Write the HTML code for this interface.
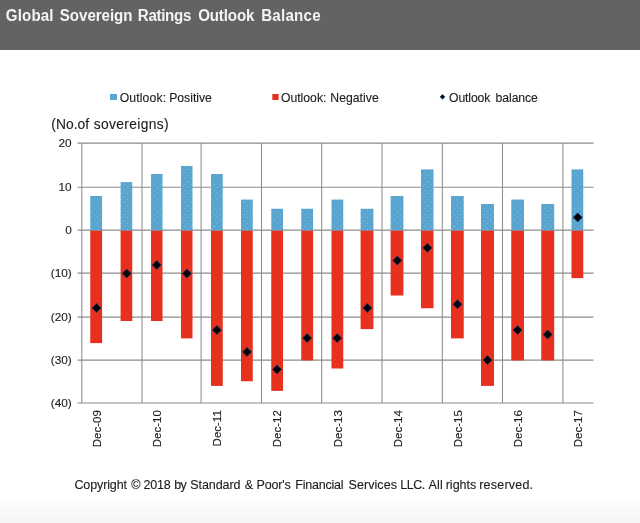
<!DOCTYPE html>
<html><head><meta charset="utf-8"><title>Global Sovereign Ratings Outlook Balance</title>
<style>
html,body{margin:0;padding:0;background:#fff;}
body{width:640px;height:523px;overflow:hidden;font-family:"Liberation Sans",Arial,sans-serif;}
svg{display:block;}
</style></head><body>
<svg width="640" height="523" viewBox="0 0 640 523">
<defs><pattern id="dots" width="6" height="6" patternUnits="userSpaceOnUse"><rect width="6" height="6" fill="#5aa5d0"/><rect x="1" y="1" width="1" height="1" fill="#70c2cc"/><rect x="4" y="4" width="1" height="1" fill="#70c2cc"/></pattern><linearGradient id="fg" x1="0" y1="0" x2="0" y2="1"><stop offset="0" stop-color="#ffffff"/><stop offset="1" stop-color="#f5f5f5"/></linearGradient></defs>
<rect x="0" y="0" width="640" height="523" fill="#ffffff"/>
<rect x="0" y="497" width="640" height="26" fill="url(#fg)"/>
<rect x="0" y="0" width="640" height="50" fill="#646364"/>
<text transform="scale(0.9,1)" y="20.7" font-family="'Liberation Sans', Arial, sans-serif" font-size="16.8" font-weight="bold" fill="#f4f4f4"><tspan x="6.53" letter-spacing="0.15">Global </tspan><tspan x="66.50" letter-spacing="-0.05">Sovereign </tspan><tspan x="153.10" letter-spacing="-0.35">Ratings </tspan><tspan x="220.14" letter-spacing="-0.13">Outlook </tspan><tspan x="290.21" letter-spacing="0.26">Balance</tspan></text>
<g stroke="#8c8c8c" stroke-width="1.05" fill="none"><line x1="77.6" y1="143.1" x2="593.5" y2="143.1"/><line x1="77.6" y1="187.2" x2="593.5" y2="187.2"/><line x1="77.6" y1="230.1" x2="593.5" y2="230.1"/><line x1="77.6" y1="273.1" x2="593.5" y2="273.1"/><line x1="77.6" y1="317.1" x2="593.5" y2="317.1"/><line x1="77.6" y1="360.1" x2="593.5" y2="360.1"/><line x1="77.6" y1="403.0" x2="593.5" y2="403.0"/><line x1="81.8" y1="143.1" x2="81.8" y2="403.0"/><line x1="142.0" y1="143.1" x2="142.0" y2="403.0"/><line x1="201.1" y1="143.1" x2="201.1" y2="403.0"/><line x1="261.5" y1="143.1" x2="261.5" y2="403.0"/><line x1="321.7" y1="143.1" x2="321.7" y2="403.0"/><line x1="382.0" y1="143.1" x2="382.0" y2="403.0"/><line x1="442.3" y1="143.1" x2="442.3" y2="403.0"/><line x1="502.5" y1="143.1" x2="502.5" y2="403.0"/><line x1="562.9" y1="143.1" x2="562.9" y2="403.0"/></g>
<rect x="90.25" y="196.00" width="11.85" height="34.65" fill="url(#dots)"/>
<rect x="90.25" y="230.65" width="11.85" height="112.45" fill="#e8301f"/>
<rect x="120.60" y="182.10" width="11.65" height="48.55" fill="url(#dots)"/>
<rect x="120.60" y="230.65" width="11.65" height="90.35" fill="#e8301f"/>
<rect x="151.00" y="174.00" width="11.50" height="56.65" fill="url(#dots)"/>
<rect x="151.00" y="230.65" width="11.50" height="90.35" fill="#e8301f"/>
<rect x="181.00" y="165.90" width="11.50" height="64.75" fill="url(#dots)"/>
<rect x="181.00" y="230.65" width="11.50" height="107.75" fill="#e8301f"/>
<rect x="211.00" y="174.00" width="11.75" height="56.65" fill="url(#dots)"/>
<rect x="211.00" y="230.65" width="11.75" height="155.25" fill="#e8301f"/>
<rect x="241.00" y="199.55" width="11.75" height="31.10" fill="url(#dots)"/>
<rect x="241.00" y="230.65" width="11.75" height="150.60" fill="#e8301f"/>
<rect x="271.25" y="208.75" width="11.75" height="21.90" fill="url(#dots)"/>
<rect x="271.25" y="230.65" width="11.75" height="160.25" fill="#e8301f"/>
<rect x="301.25" y="208.75" width="11.85" height="21.90" fill="url(#dots)"/>
<rect x="301.25" y="230.65" width="11.85" height="129.75" fill="#e8301f"/>
<rect x="331.50" y="199.55" width="11.75" height="31.10" fill="url(#dots)"/>
<rect x="331.50" y="230.65" width="11.75" height="137.85" fill="#e8301f"/>
<rect x="360.60" y="208.75" width="12.80" height="21.90" fill="url(#dots)"/>
<rect x="360.60" y="230.65" width="12.80" height="98.45" fill="#e8301f"/>
<rect x="390.60" y="196.00" width="12.80" height="34.65" fill="url(#dots)"/>
<rect x="390.60" y="230.65" width="12.80" height="64.85" fill="#e8301f"/>
<rect x="421.00" y="169.40" width="12.50" height="61.25" fill="url(#dots)"/>
<rect x="421.00" y="230.65" width="12.50" height="77.60" fill="#e8301f"/>
<rect x="451.00" y="196.00" width="12.75" height="34.65" fill="url(#dots)"/>
<rect x="451.00" y="230.65" width="12.75" height="107.75" fill="#e8301f"/>
<rect x="481.00" y="204.00" width="13.00" height="26.65" fill="url(#dots)"/>
<rect x="481.00" y="230.65" width="13.00" height="155.25" fill="#e8301f"/>
<rect x="511.25" y="199.55" width="12.75" height="31.10" fill="url(#dots)"/>
<rect x="511.25" y="230.65" width="12.75" height="129.75" fill="#e8301f"/>
<rect x="541.25" y="204.00" width="12.95" height="26.65" fill="url(#dots)"/>
<rect x="541.25" y="230.65" width="12.95" height="129.75" fill="#e8301f"/>
<rect x="571.50" y="169.40" width="11.75" height="61.25" fill="url(#dots)"/>
<rect x="571.50" y="230.65" width="11.75" height="47.45" fill="#e8301f"/>
<path d="M96.6 303.4 L101.1 307.9 L96.6 312.4 L92.1 307.9Z" fill="#030308" stroke="#1b3468" stroke-width="0.9"/>
<path d="M126.7 269.0 L131.2 273.5 L126.7 278.0 L122.2 273.5Z" fill="#030308" stroke="#1b3468" stroke-width="0.9"/>
<path d="M156.8 260.4 L161.3 264.9 L156.8 269.4 L152.3 264.9Z" fill="#030308" stroke="#1b3468" stroke-width="0.9"/>
<path d="M186.8 269.0 L191.3 273.5 L186.8 278.0 L182.3 273.5Z" fill="#030308" stroke="#1b3468" stroke-width="0.9"/>
<path d="M216.9 325.5 L221.4 330.0 L216.9 334.5 L212.4 330.0Z" fill="#030308" stroke="#1b3468" stroke-width="0.9"/>
<path d="M247.0 347.4 L251.5 351.9 L247.0 356.4 L242.5 351.9Z" fill="#030308" stroke="#1b3468" stroke-width="0.9"/>
<path d="M277.0 364.9 L281.5 369.4 L277.0 373.9 L272.5 369.4Z" fill="#030308" stroke="#1b3468" stroke-width="0.9"/>
<path d="M307.1 333.6 L311.6 338.1 L307.1 342.6 L302.6 338.1Z" fill="#030308" stroke="#1b3468" stroke-width="0.9"/>
<path d="M337.2 333.6 L341.7 338.1 L337.2 342.6 L332.7 338.1Z" fill="#030308" stroke="#1b3468" stroke-width="0.9"/>
<path d="M367.3 303.4 L371.8 307.9 L367.3 312.4 L362.8 307.9Z" fill="#030308" stroke="#1b3468" stroke-width="0.9"/>
<path d="M397.3 256.0 L401.8 260.5 L397.3 265.0 L392.8 260.5Z" fill="#030308" stroke="#1b3468" stroke-width="0.9"/>
<path d="M427.4 243.3 L431.9 247.8 L427.4 252.3 L422.9 247.8Z" fill="#030308" stroke="#1b3468" stroke-width="0.9"/>
<path d="M457.5 299.8 L462.0 304.3 L457.5 308.8 L453.0 304.3Z" fill="#030308" stroke="#1b3468" stroke-width="0.9"/>
<path d="M487.5 355.6 L492.0 360.1 L487.5 364.6 L483.0 360.1Z" fill="#030308" stroke="#1b3468" stroke-width="0.9"/>
<path d="M517.6 325.5 L522.1 330.0 L517.6 334.5 L513.1 330.0Z" fill="#030308" stroke="#1b3468" stroke-width="0.9"/>
<path d="M547.7 330.0 L552.2 334.5 L547.7 339.0 L543.2 334.5Z" fill="#030308" stroke="#1b3468" stroke-width="0.9"/>
<path d="M577.7 212.9 L582.2 217.4 L577.7 221.9 L573.2 217.4Z" fill="#030308" stroke="#1b3468" stroke-width="0.9"/>
<g font-family="'Liberation Sans', Arial, sans-serif" font-size="11.8" fill="#1c1c1c" stroke="#1c1c1c" stroke-width="0.12" text-anchor="end">
<text x="71.7" y="147.45">20</text>
<text x="71.7" y="190.75">10</text>
<text x="71.7" y="234.05">0</text>
<text x="71.7" y="277.35">(10)</text>
<text x="71.7" y="320.65">(20)</text>
<text x="71.7" y="363.95">(30)</text>
<text x="71.7" y="407.25">(40)</text>
</g>
<g font-family="'Liberation Sans', Arial, sans-serif" font-size="11.5" fill="#1c1c1c" stroke="#1c1c1c" stroke-width="0.12" text-anchor="end">
<text transform="translate(100.9,410.2) rotate(-90)">Dec-09</text>
<text transform="translate(161.1,410.2) rotate(-90)">Dec-10</text>
<text transform="translate(221.2,410.2) rotate(-90)">Dec-11</text>
<text transform="translate(281.3,410.2) rotate(-90)">Dec-12</text>
<text transform="translate(341.5,410.2) rotate(-90)">Dec-13</text>
<text transform="translate(401.6,410.2) rotate(-90)">Dec-14</text>
<text transform="translate(461.8,410.2) rotate(-90)">Dec-15</text>
<text transform="translate(521.9,410.2) rotate(-90)">Dec-16</text>
<text transform="translate(582.0,410.2) rotate(-90)">Dec-17</text>
</g>
<rect x="110" y="94" width="7" height="6" fill="#5aa5d0"/>
<rect x="272.3" y="94" width="6.3" height="6" fill="#e8301f"/>
<path d="M442.5 94.4 L444.9 96.8 L442.5 99.2 L440.1 96.8Z" fill="#030308" stroke="#1d4f8f" stroke-width="0.9"/>
<text transform="scale(0.94,1)" y="101.8" font-family="'Liberation Sans', Arial, sans-serif" font-size="13" stroke="#1c1c1c" stroke-width="0.12" fill="#1c1c1c"><tspan x="127.35" letter-spacing="0.13">Outlook: </tspan><tspan x="180.05" letter-spacing="-0.03">Positive</tspan></text>
<text transform="scale(0.94,1)" y="101.8" font-family="'Liberation Sans', Arial, sans-serif" font-size="13" stroke="#1c1c1c" stroke-width="0.12" fill="#1c1c1c"><tspan x="298.90" letter-spacing="-0.01">Outlook: </tspan><tspan x="351.43" letter-spacing="0.02">Negative</tspan></text>
<text transform="scale(0.94,1)" y="101.8" font-family="'Liberation Sans', Arial, sans-serif" font-size="13" stroke="#1c1c1c" stroke-width="0.12" fill="#1c1c1c"><tspan x="477.78" letter-spacing="-0.16">Outlook </tspan><tspan x="527.21" letter-spacing="-0.08">balance</tspan></text>
<text transform="scale(0.96,1)" y="128.8" font-family="'Liberation Sans', Arial, sans-serif" font-size="14.4" stroke="#1c1c1c" stroke-width="0.12" fill="#1c1c1c"><tspan x="53.50" letter-spacing="0.01">(No.of </tspan><tspan x="97.59" letter-spacing="0.37">sovereigns)</tspan></text>
<text transform="scale(0.95,1)" y="489.4" font-family="'Liberation Sans', Arial, sans-serif" font-size="13.2" stroke="#1c1c1c" stroke-width="0.12" fill="#1c1c1c"><tspan x="78.38" letter-spacing="-0.14">Copyright </tspan><tspan x="138.20">© </tspan><tspan x="151.16" letter-spacing="-0.22">2018 </tspan><tspan x="183.41" letter-spacing="-0.63">by </tspan><tspan x="200.32" letter-spacing="-0.09">Standard </tspan><tspan x="257.60">&amp; </tspan><tspan x="269.98" letter-spacing="-0.18">Poor&#x27;s </tspan><tspan x="310.77" letter-spacing="-0.23">Financial </tspan><tspan x="366.80" letter-spacing="0.08">Services </tspan><tspan x="421.30" letter-spacing="-0.50">LLC. </tspan><tspan x="450.95" letter-spacing="0.26">All </tspan><tspan x="469.18" letter-spacing="-0.02">rights </tspan><tspan x="504.44" letter-spacing="0.22">reserved.</tspan></text>
</svg>
</body></html>
